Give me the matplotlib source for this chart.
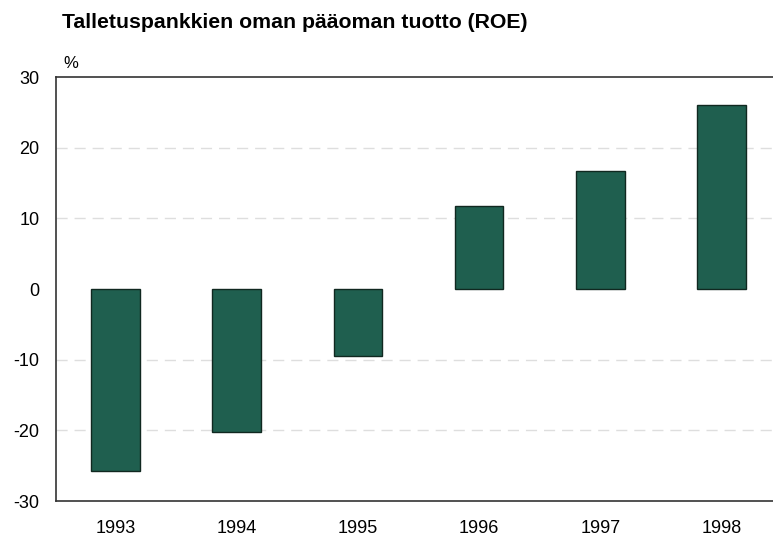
import matplotlib
matplotlib.use("Agg")
import matplotlib.pyplot as plt

# data
years = ["1993", "1994", "1995", "1996", "1997", "1998"]
roe = [-25.8, -20.2, -9.5, 11.8, 16.7, 26.0]
y_ticks = [-30, -20, -10, 0, 10, 20, 30]

BAR_COLOUR = "#1f5f4f"

plt.rcParams["font.family"] = ["Liberation Sans", "DejaVu Sans"]

fig = plt.figure(figsize=(7.73, 5.42), dpi=100)
ax = fig.add_axes([0.0724, 0.0756, 0.93, 0.782])

x = list(range(len(years)))
ax.bar(x, roe, width=0.4, color=BAR_COLOUR, edgecolor="#102820", linewidth=1.0, zorder=3)

# faint dashed reference lines
for val in (-20, -10, 10, 20):
    ax.axhline(val, color="#dedede", linestyle=(0, (8, 5)), linewidth=1.0, zorder=1)

ax.set_ylim(-30, 30)
ax.set_xlim(-0.49, 5.44)
ax.set_yticks(y_ticks)
ax.set_yticklabels([str(v) for v in y_ticks], fontsize=13)
ax.set_xticks(x)
ax.set_xticklabels(years, fontsize=13)
ax.tick_params(axis="x", length=0, pad=14)
ax.tick_params(axis="y", length=0, pad=12)

for side in ("left", "bottom", "top"):
    ax.spines[side].set_color("#333333")
    ax.spines[side].set_linewidth(1.2)
ax.spines["right"].set_visible(False)

ax.text(0.01, 1.015, "%", transform=ax.transAxes, fontsize=12, ha="left", va="bottom")

fig.text(0.08, 0.958, "Talletuspankkien oman pääoman tuotto (ROE)",
         fontsize=15.3, fontweight="bold", ha="left", va="center")

fig.savefig("out.png", dpi=100)
